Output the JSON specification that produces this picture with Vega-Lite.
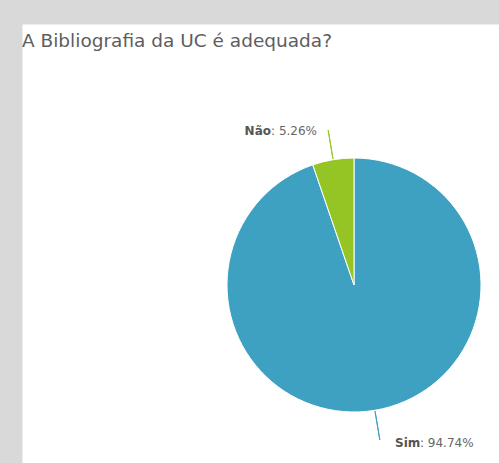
{
  "$schema": "https://vega.github.io/schema/vega-lite/v6.json",
  "autosize": "none",
  "width": 664,
  "height": 522,
  "padding": {"left": 22, "top": 24, "right": -187, "bottom": -83},
  "background": "#d9d9d9",
  "view": {"fill": "white", "stroke": "transparent"},
  "config": {"font": "DejaVu Sans"},
  "title": {
    "text": "A Bibliografia da UC é adequada?",
    "anchor": "start",
    "frame": "group",
    "font": "DejaVu Sans",
    "fontSize": 18.5,
    "fontWeight": "normal",
    "color": "#5e5e5e",
    "baseline": "alphabetic",
    "offset": -41
  },
  "data": {"values": [
    {"answer": "Sim", "pct": 94.74},
    {"answer": "Não", "pct": 5.26}
  ]},
  "encoding": {
    "theta": {"field": "pct", "type": "quantitative", "stack": true},
    "order": {"field": "pct", "sort": "descending"},
    "detail": {"field": "answer"}
  },
  "resolve": {"scale": {"theta": "independent"}},
  "layer": [
    {
      "mark": {"type": "arc", "outerRadius": 127, "stroke": "white", "strokeWidth": 1},
      "encoding": {
        "color": {"field": "answer", "type": "nominal", "scale": {"domain": ["Sim", "Não"], "range": ["#3ea1c2", "#95c524"]}, "legend": null}
      }
    },
    {
      "mark": {"type": "arc", "innerRadius": 128, "outerRadius": 157, "padAngle": 1, "fill": "transparent", "strokeWidth": 1},
      "encoding": {
        "stroke": {"condition": {"test": "datum.answer === 'Não'", "value": "#95c524"}, "value": "transparent"}
      }
    },
    {
      "mark": {"type": "arc", "innerRadius": 128, "outerRadius": 157, "padAngle": 1, "fill": "transparent", "strokeWidth": 1},
      "encoding": {
        "theta": {"field": "pct", "type": "quantitative", "stack": true, "scale": {"range": [3.14159265, 9.42477796]}},
        "stroke": {"condition": {"test": "datum.answer === 'Não'", "value": "#3ea1c2"}, "value": "transparent"}
      }
    },
    {
      "mark": {"type": "text", "radius": 158, "align": "right", "baseline": "alphabetic", "dx": -57, "dy": 6, "fontSize": 12, "fontWeight": "bold", "color": "#555555"},
      "encoding": {
        "text": {"field": "answer"},
        "opacity": {"condition": {"test": "datum.answer === 'Não'", "value": 1}, "value": 0}
      }
    },
    {
      "mark": {"type": "text", "radius": 158, "align": "right", "baseline": "alphabetic", "dx": -11, "dy": 6, "fontSize": 12, "color": "#666666", "text": {"expr": "': ' + format(datum.pct, '.2f') + '%'"}},
      "encoding": {
        "opacity": {"condition": {"test": "datum.answer === 'Não'", "value": 1}, "value": 0}
      }
    },
    {
      "mark": {"type": "text", "radius": 158, "align": "left", "baseline": "alphabetic", "dx": 15, "dy": 6, "fontSize": 12, "fontWeight": "bold", "color": "#555555"},
      "encoding": {
        "text": {"field": "answer"},
        "opacity": {"condition": {"test": "datum.answer === 'Sim'", "value": 1}, "value": 0}
      }
    },
    {
      "mark": {"type": "text", "radius": 158, "align": "left", "baseline": "alphabetic", "dx": 40, "dy": 6, "fontSize": 12, "color": "#666666", "text": {"expr": "': ' + format(datum.pct, '.2f') + '%'"}},
      "encoding": {
        "opacity": {"condition": {"test": "datum.answer === 'Sim'", "value": 1}, "value": 0}
      }
    }
  ]
}
